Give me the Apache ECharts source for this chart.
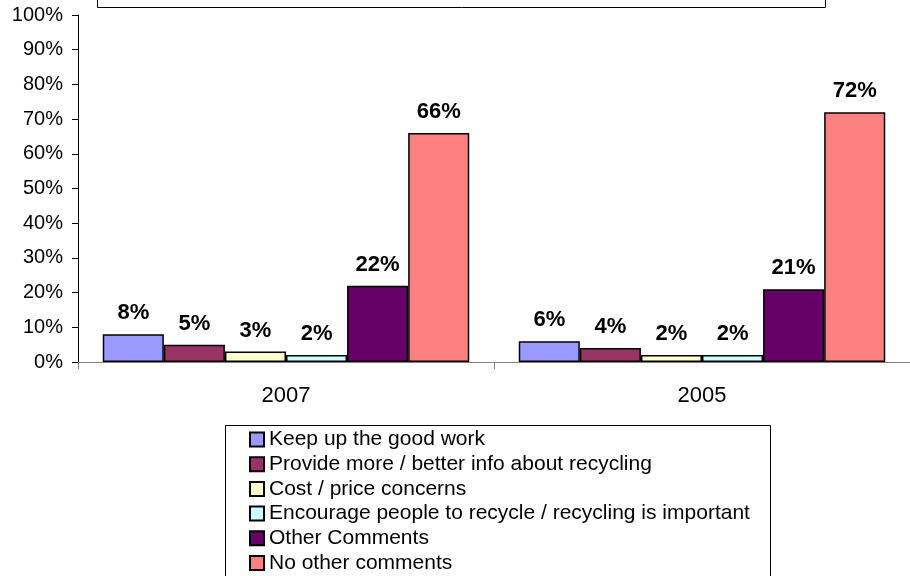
<!DOCTYPE html>
<html>
<head>
<meta charset="utf-8">
<script src="https://cdn.jsdelivr.net/npm/echarts@6/dist/echarts.min.js"></script>
<style>html,body{margin:0;padding:0;background:#fff;}#chart{width:910px;height:576px;}</style>
</head>
<body>
<div id="chart"></div>
<script>
var categories = ['2007', '2005'];
var seriesNames = [
  'Keep up the good work',
  'Provide more / better info about recycling',
  'Cost / price concerns',
  'Encourage people to recycle / recycling is important',
  'Other Comments',
  'No other comments'
];
var keepUp = [8, 6];
var provideInfo = [5, 4];
var costConcerns = [3, 2];
var encourage = [2, 2];
var otherComments = [22, 21];
var noOther = [66, 72];
var yTicks = [0, 10, 20, 30, 40, 50, 60, 70, 80, 90, 100];
var colors = ['#9999FF', '#993366', '#FFFFCC', '#CCFFFF', '#660066', '#FF8080'];
var values = [keepUp, provideInfo, costConcerns, encourage, otherComments, noOther];

var FONT = 'Arial, "Liberation Sans", sans-serif';
var chart = echarts.init(document.getElementById('chart'), null, {renderer: 'canvas'});
var series = seriesNames.map(function (n, i) {
  return {
    name: n,
    type: 'bar',
    data: values[i],
    barGap: '0%',
    barCategoryGap: '11.9%',
    itemStyle: {color: colors[i], borderColor: '#000', borderWidth: 1.5},
    label: {
      show: true, position: 'top', distance: 10,
      formatter: '{c}%', fontFamily: FONT, fontSize: 22, fontWeight: 'bold', color: '#000'
    },
    emphasis: {disabled: true}
  };
});
chart.setOption({
  animation: false,
  backgroundColor: '#fff',
  color: colors,
  grid: {left: 78, right: -8, top: 15, bottom: 214, containLabel: false},
  xAxis: {
    type: 'category', data: categories,
    axisLine: {lineStyle: {color: '#808080', width: 1}},
    axisTick: {show: true, length: 7, lineStyle: {color: '#808080'}},
    axisLabel: {fontFamily: FONT, fontSize: 22, color: '#000', margin: 23}
  },
  yAxis: {
    type: 'value', min: yTicks[0], max: yTicks[yTicks.length - 1], interval: yTicks[1] - yTicks[0],
    splitLine: {show: false},
    axisLine: {show: true, lineStyle: {color: '#000', width: 1}},
    axisTick: {show: true, length: 6, lineStyle: {color: '#000'}},
    axisLabel: {formatter: '{value}%', fontFamily: FONT, fontSize: 20, color: '#000', margin: 15}
  },
  legend: {
    orient: 'vertical', left: 244, top: 424, height: 300,
    itemWidth: 14, itemHeight: 14, itemGap: 3.7,
    icon: 'rect',
    textStyle: {fontFamily: FONT, fontSize: 21, color: '#000', lineHeight: 21},
    data: seriesNames
  },
  graphic: [
    {type: 'rect', shape: {x: 225.5, y: 425.5, width: 545, height: 170}, style: {fill: 'none', stroke: '#000', lineWidth: 1}, silent: true},
    {type: 'rect', shape: {x: 97.5, y: -20, width: 728, height: 27.5}, style: {fill: 'none', stroke: '#000', lineWidth: 1}, silent: true}
  ],
  series: series
});
</script>
</body>
</html>
